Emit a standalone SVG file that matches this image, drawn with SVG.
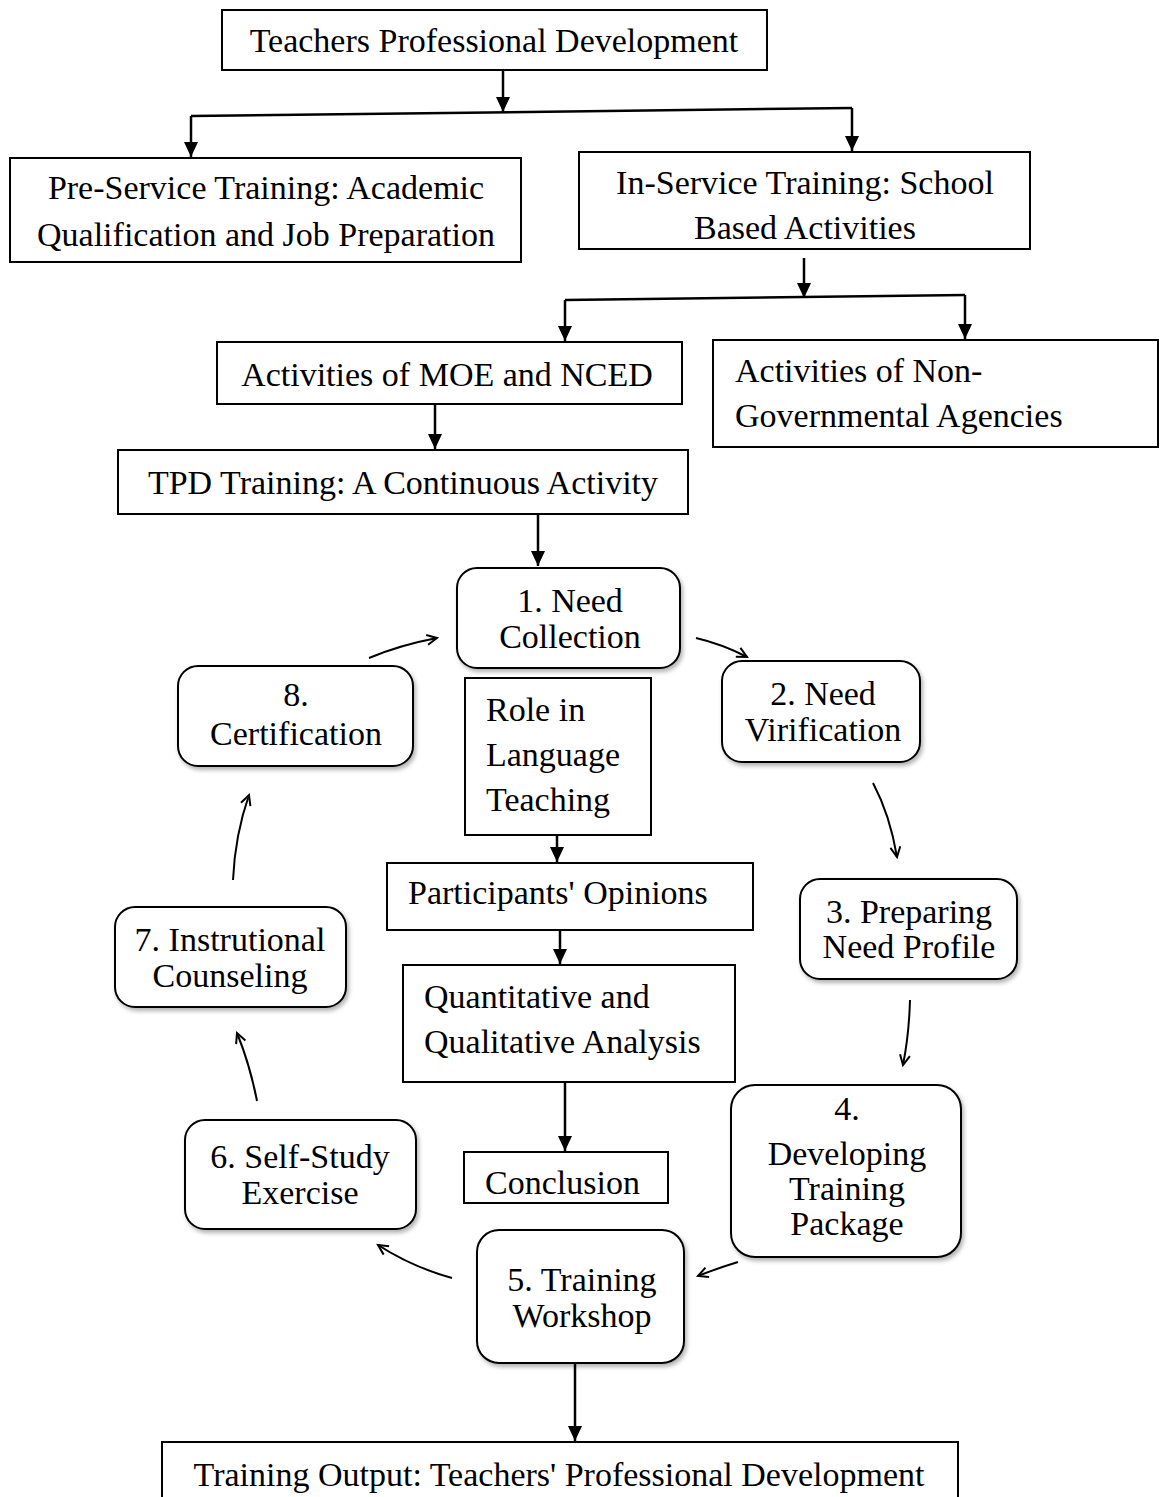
<svg xmlns="http://www.w3.org/2000/svg" width="1160" height="1497" viewBox="0 0 1160 1497">
<style>
text{font-family:"Liberation Serif","Times New Roman",serif;font-size:34px;fill:#000}
.c{text-anchor:middle}
.box{fill:#fff;stroke:#000;stroke-width:2}
.rbox{fill:#fff;stroke:#000;stroke-width:2;filter:url(#sh)}
.conn{fill:none;stroke:#000;stroke-width:2.5}
.cyc{fill:none;stroke:#000;stroke-width:2}
</style>
<defs>
<filter id="sh" x="-10%" y="-10%" width="130%" height="130%"><feDropShadow dx="2" dy="3" stdDeviation="2" flood-color="#000" flood-opacity="0.3"/></filter>
<marker id="fa" markerUnits="userSpaceOnUse" markerWidth="16" markerHeight="16" refX="15" refY="7" orient="auto"><path d="M0,0 L15,7 L0,14 z" fill="#000"/></marker>
<marker id="oa" markerUnits="userSpaceOnUse" markerWidth="14" markerHeight="14" refX="11" refY="6" orient="auto"><path d="M1,1 L11,6 L1,11" fill="none" stroke="#000" stroke-width="2"/></marker>
</defs>
<g id="connectors">
<path class="conn" d="M503,70 V112" marker-end="url(#fa)"/>
<path class="conn" d="M191,116 L852,108"/>
<path class="conn" d="M191,116 V157" marker-end="url(#fa)"/>
<path class="conn" d="M852,108 V151" marker-end="url(#fa)"/>
<path class="conn" d="M804,258 V298" marker-end="url(#fa)"/>
<path class="conn" d="M565,300 L965,295"/>
<path class="conn" d="M565,300 V341" marker-end="url(#fa)"/>
<path class="conn" d="M965,295 V339" marker-end="url(#fa)"/>
<path class="conn" d="M435,405 V449" marker-end="url(#fa)"/>
<path class="conn" d="M538,515 V566" marker-end="url(#fa)"/>
<path class="conn" d="M557,835 V862" marker-end="url(#fa)"/>
<path class="conn" d="M560,930 V964" marker-end="url(#fa)"/>
<path class="conn" d="M565,1082 V1151" marker-end="url(#fa)"/>
<path class="conn" d="M575,1363 V1441" marker-end="url(#fa)"/>
<path class="cyc" d="M369,658 Q400,645 437,638" marker-end="url(#oa)"/>
<path class="cyc" d="M696,638 Q722,644 747,657" marker-end="url(#oa)"/>
<path class="cyc" d="M873,783 Q890,815 897,857" marker-end="url(#oa)"/>
<path class="cyc" d="M910,1000 Q909,1035 903,1065" marker-end="url(#oa)"/>
<path class="cyc" d="M738,1262 Q718,1268 698,1276" marker-end="url(#oa)"/>
<path class="cyc" d="M452,1278 Q412,1267 378,1245" marker-end="url(#oa)"/>
<path class="cyc" d="M257,1101 Q250,1065 237,1033" marker-end="url(#oa)"/>
<path class="cyc" d="M233,880 Q235,835 249,795" marker-end="url(#oa)"/>
</g>
<g id="tpd"><rect class="box" x="222" y="10" width="545" height="60"/><text class="c" x="494" y="52">Teachers Professional Development</text></g>
<g id="preservice"><rect class="box" x="10" y="158" width="511" height="104"/><text class="c" x="266" y="199">Pre-Service Training: Academic</text><text class="c" x="266" y="246">Qualification and Job Preparation</text></g>
<g id="inservice"><rect class="box" x="579" y="152" width="451" height="97"/><text class="c" x="805" y="194">In-Service Training: School</text><text class="c" x="805" y="239">Based Activities</text></g>
<g id="moe"><rect class="box" x="217" y="342" width="465" height="62"/><text class="c" x="447" y="386">Activities of MOE and NCED</text></g>
<g id="ngo"><rect class="box" x="713" y="340" width="445" height="107"/><text x="735" y="382">Activities of Non-</text><text x="735" y="427">Governmental Agencies</text></g>
<g id="tpdtraining"><rect class="box" x="118" y="450" width="570" height="64"/><text class="c" x="403" y="494">TPD Training: A Continuous Activity</text></g>
<g id="n1"><rect class="rbox" x="457" y="568" width="223" height="100" rx="20"/><text class="c" x="570" y="612">1. Need</text><text class="c" x="570" y="648">Collection</text></g>
<g id="n2"><rect class="rbox" x="722" y="661" width="198" height="101" rx="20"/><text class="c" x="823" y="705">2. Need</text><text class="c" x="823" y="741">Virification</text></g>
<g id="n3"><rect class="rbox" x="800" y="879" width="217" height="100" rx="20"/><text class="c" x="909" y="923">3. Preparing</text><text class="c" x="909" y="958">Need Profile</text></g>
<g id="n4"><rect class="rbox" x="731" y="1085" width="230" height="172" rx="24"/><text class="c" x="847" y="1120">4.</text><text class="c" x="847" y="1165">Developing</text><text class="c" x="847" y="1200">Training</text><text class="c" x="847" y="1235">Package</text></g>
<g id="n5"><rect class="rbox" x="477" y="1230" width="207" height="133" rx="22"/><text class="c" x="582" y="1291">5. Training</text><text class="c" x="582" y="1327">Workshop</text></g>
<g id="n6"><rect class="rbox" x="185" y="1120" width="231" height="109" rx="20"/><text class="c" x="300" y="1168">6. Self-Study</text><text class="c" x="300" y="1204">Exercise</text></g>
<g id="n7"><rect class="rbox" x="115" y="907" width="231" height="100" rx="20"/><text class="c" x="230" y="951">7. Instrutional</text><text class="c" x="230" y="987">Counseling</text></g>
<g id="n8"><rect class="rbox" x="178" y="666" width="235" height="100" rx="20"/><text class="c" x="296" y="706">8.</text><text class="c" x="296" y="745">Certification</text></g>
<g id="role"><rect class="box" x="465" y="678" width="186" height="157"/><text x="486" y="721">Role in</text><text x="486" y="766">Language</text><text x="486" y="811">Teaching</text></g>
<g id="opinions"><rect class="box" x="387" y="863" width="366" height="67"/><text x="408" y="904">Participants' Opinions</text></g>
<g id="analysis"><rect class="box" x="403" y="965" width="332" height="117"/><text x="424" y="1008">Quantitative and</text><text x="424" y="1053">Qualitative Analysis</text></g>
<g id="conclusion"><rect class="box" x="464" y="1152" width="204" height="51"/><text x="485" y="1194">Conclusion</text></g>
<g id="output"><rect class="box" x="162" y="1442" width="796" height="70"/><text class="c" x="559" y="1486">Training Output: Teachers' Professional Development</text></g>
</svg>
